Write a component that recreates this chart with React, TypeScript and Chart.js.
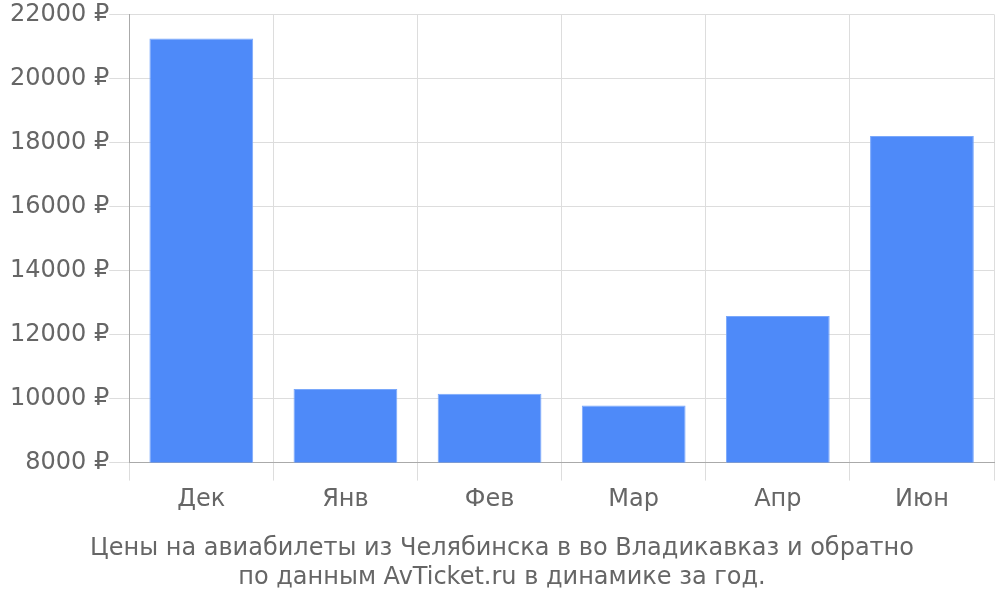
import React, { useEffect, useRef } from "react";
import { Chart, registerables } from "chart.js";

Chart.register(...registerables);

const categories = ["Дек", "Янв", "Фев", "Мар", "Апр", "Июн"];
const prices = [21250, 10300, 10150, 9780, 12580, 18200];
const titleLines = [
  "Цены на авиабилеты из Челябинска в во Владикавказ и обратно",
  "по данным AvTicket.ru в динамике за год.",
];

export default function App() {
  const ref = useRef<HTMLCanvasElement | null>(null);
  useEffect(() => {
    if (!ref.current) return;
    const chart = new Chart(ref.current, {
      type: "bar",
      data: {
        labels: categories,
        datasets: [
          {
            data: prices,
            backgroundColor: "#4e8af9",
            borderColor: "#7aa8fb",
            borderWidth: 1,
          },
        ],
      },
      options: {
        animation: false,
        responsive: false,
        layout: { padding: { top: 4, right: 6, left: 10, bottom: 8 } },
        plugins: {
          legend: { display: false },
          tooltip: { enabled: false },
          title: {
            display: true,
            position: "bottom",
            text: titleLines,
            color: "#666",
            font: { family: "DejaVu Sans", size: 24, weight: "normal" },
            padding: { top: 15, bottom: 0 },
            lineHeight: 1.2,
          },
        },
        scales: {
          x: {
            grid: { color: "#dddddd", tickLength: 18, offset: true },
            border: { color: "#aaaaaa" },
            ticks: {
              color: "#666",
              font: { family: "DejaVu Sans", size: 24 },
              padding: 5,
            },
          },
          y: {
            min: 8000,
            max: 22000,
            grid: { color: "#dddddd", tickLength: 20 },
            border: { color: "#aaaaaa" },
            ticks: {
              stepSize: 2000,
              color: "#666",
              font: { family: "DejaVu Sans", size: 24 },
              padding: 0,
              callback: (v: any) => v + " ₽",
            },
          },
        },
      },
    });
    return () => chart.destroy();
  }, []);
  return (
    <div style={{ position: "absolute", left: 0, top: 0, width: 1000, height: 600 }}>
      <canvas ref={ref} width={1000} height={600} />
    </div>
  );
}
